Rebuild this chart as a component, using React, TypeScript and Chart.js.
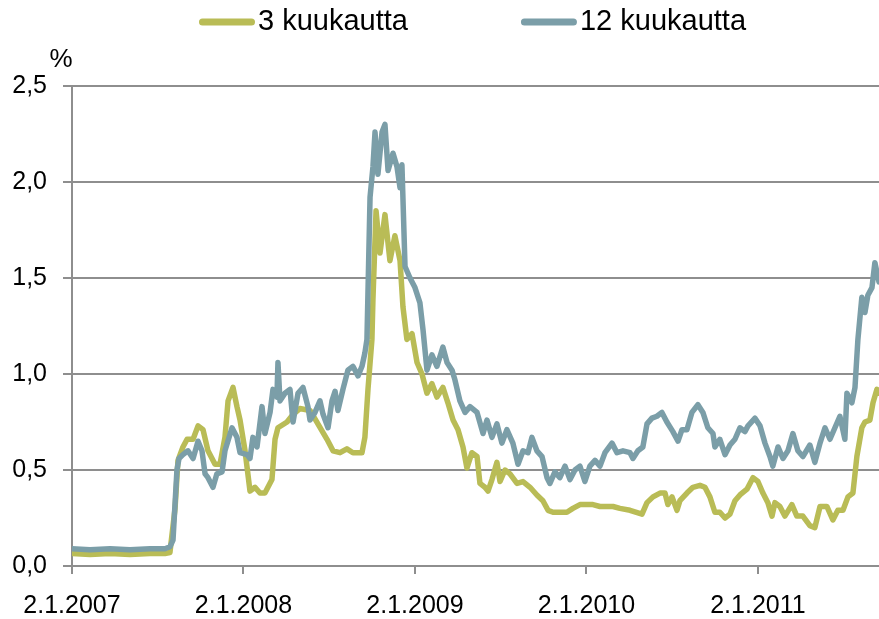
import { useEffect, useRef } from 'react';
import { Chart, registerables } from 'chart.js';

Chart.register(...registerables);

const SERIES_LABELS = ['3 kuukautta', '12 kuukautta'];
const SERIES_COLORS = ['#B9BC56', '#7B9EA8'];

const X_TICK_VALUES = [2007, 2008, 2009, 2010, 2011];
const X_TICK_LABELS = ['2.1.2007', '2.1.2008', '2.1.2009', '2.1.2010', '2.1.2011'];
const X_MIN = 2007;
const X_MAX = 2011.706;
const Y_MIN = 0;
const Y_MAX = 2.5;
const Y_STEP = 0.5;

// 3-month series: dates as decimal years, values in %
const DATES_3M = [
  2007.000, 2007.105, 2007.222, 2007.338, 2007.455, 2007.542, 2007.571, 2007.601, 2007.618, 2007.647,
  2007.671, 2007.706, 2007.735, 2007.764, 2007.793, 2007.834, 2007.863, 2007.892, 2007.910, 2007.939,
  2007.962, 2007.980, 2008.009, 2008.038, 2008.067, 2008.096, 2008.125, 2008.166, 2008.184, 2008.201,
  2008.254, 2008.289, 2008.329, 2008.388, 2008.434, 2008.487, 2008.522, 2008.563, 2008.603, 2008.638,
  2008.691, 2008.708, 2008.726, 2008.749, 2008.755, 2008.773, 2008.796, 2008.825, 2008.854, 2008.883,
  2008.913, 2008.930, 2008.953, 2008.983, 2009.012, 2009.041, 2009.070, 2009.099, 2009.128, 2009.163,
  2009.192, 2009.222, 2009.251, 2009.280, 2009.303, 2009.332, 2009.362, 2009.379, 2009.408, 2009.426,
  2009.449, 2009.478, 2009.496, 2009.525, 2009.554, 2009.595, 2009.630, 2009.671, 2009.711, 2009.746,
  2009.776, 2009.805, 2009.845, 2009.886, 2009.921, 2009.962, 2010.003, 2010.038, 2010.079, 2010.155,
  2010.195, 2010.254, 2010.324, 2010.353, 2010.388, 2010.429, 2010.458, 2010.475, 2010.499, 2010.528,
  2010.545, 2010.586, 2010.621, 2010.662, 2010.691, 2010.720, 2010.749, 2010.778, 2010.808, 2010.837,
  2010.866, 2010.895, 2010.936, 2010.971, 2011.000, 2011.029, 2011.058, 2011.082, 2011.099, 2011.128,
  2011.157, 2011.198, 2011.227, 2011.262, 2011.303, 2011.332, 2011.362, 2011.402, 2011.437, 2011.466,
  2011.496, 2011.525, 2011.554, 2011.577, 2011.606, 2011.624, 2011.653, 2011.671, 2011.694, 2011.706,
];
const RATE_3M = [
  0.065, 0.06, 0.065, 0.06, 0.065, 0.065, 0.07, 0.30, 0.55, 0.62,
  0.66, 0.66, 0.73, 0.71, 0.60, 0.53, 0.53, 0.67, 0.86, 0.93,
  0.83, 0.76, 0.60, 0.39, 0.41, 0.38, 0.38, 0.45, 0.66, 0.72,
  0.75, 0.79, 0.82, 0.81, 0.74, 0.66, 0.60, 0.59, 0.61, 0.59,
  0.59, 0.67, 0.92, 1.18, 1.39, 1.85, 1.63, 1.83, 1.59, 1.72,
  1.59, 1.35, 1.18, 1.21, 1.06, 1.00, 0.90, 0.95, 0.88, 0.93,
  0.85, 0.76, 0.71, 0.62, 0.51, 0.59, 0.57, 0.43, 0.41, 0.39,
  0.45, 0.54, 0.44, 0.50, 0.48, 0.43, 0.44, 0.41, 0.37, 0.34,
  0.29, 0.28, 0.28, 0.28, 0.30, 0.32, 0.32, 0.32, 0.31, 0.31,
  0.30, 0.29, 0.27, 0.33, 0.36, 0.38, 0.38, 0.32, 0.36, 0.29,
  0.34, 0.38, 0.41, 0.42, 0.41, 0.36, 0.28, 0.28, 0.25, 0.27,
  0.34, 0.37, 0.40, 0.46, 0.44, 0.38, 0.33, 0.26, 0.33, 0.31,
  0.26, 0.32, 0.26, 0.26, 0.21, 0.20, 0.31, 0.31, 0.24, 0.29,
  0.29, 0.36, 0.38, 0.57, 0.72, 0.75, 0.76, 0.85, 0.92, 0.90,
];

// 12-month series
const DATES_12M = [
  2007.000, 2007.105, 2007.222, 2007.338, 2007.455, 2007.542, 2007.571, 2007.589, 2007.612, 2007.624,
  2007.647, 2007.676, 2007.706, 2007.735, 2007.758, 2007.776, 2007.793, 2007.822, 2007.845, 2007.875,
  2007.892, 2007.933, 2007.962, 2007.980, 2008.020, 2008.038, 2008.055, 2008.079, 2008.108, 2008.125,
  2008.155, 2008.172, 2008.195, 2008.201, 2008.213, 2008.242, 2008.271, 2008.289, 2008.318, 2008.347,
  2008.376, 2008.388, 2008.417, 2008.446, 2008.464, 2008.493, 2008.516, 2008.534, 2008.551, 2008.580,
  2008.609, 2008.638, 2008.668, 2008.691, 2008.708, 2008.720, 2008.738, 2008.755, 2008.767, 2008.784,
  2008.808, 2008.825, 2008.843, 2008.872, 2008.895, 2008.913, 2008.924, 2008.942, 2008.971, 2009.000,
  2009.029, 2009.047, 2009.070, 2009.099, 2009.128, 2009.163, 2009.187, 2009.216, 2009.233, 2009.262,
  2009.292, 2009.321, 2009.362, 2009.397, 2009.420, 2009.449, 2009.478, 2009.507, 2009.536, 2009.571,
  2009.601, 2009.630, 2009.659, 2009.682, 2009.711, 2009.741, 2009.770, 2009.787, 2009.816, 2009.845,
  2009.875, 2009.904, 2009.933, 2009.962, 2009.991, 2010.020, 2010.050, 2010.079, 2010.108, 2010.149,
  2010.178, 2010.213, 2010.254, 2010.271, 2010.300, 2010.329, 2010.353, 2010.382, 2010.411, 2010.440,
  2010.469, 2010.504, 2010.534, 2010.557, 2010.586, 2010.615, 2010.650, 2010.679, 2010.708, 2010.738,
  2010.749, 2010.778, 2010.808, 2010.837, 2010.866, 2010.895, 2010.924, 2010.942, 2010.983, 2011.012,
  2011.041, 2011.070, 2011.087, 2011.117, 2011.146, 2011.175, 2011.204, 2011.233, 2011.262, 2011.303,
  2011.332, 2011.362, 2011.391, 2011.420, 2011.449, 2011.478, 2011.507, 2011.519, 2011.548, 2011.566,
  2011.583, 2011.606, 2011.624, 2011.641, 2011.665, 2011.682, 2011.706,
];
const RATE_12M = [
  0.09, 0.085, 0.09, 0.085, 0.09, 0.09, 0.10, 0.135, 0.50, 0.56,
  0.58, 0.60, 0.56, 0.65, 0.60, 0.48, 0.46, 0.41, 0.48, 0.49,
  0.60, 0.72, 0.67, 0.59, 0.58, 0.56, 0.67, 0.62, 0.83, 0.69,
  0.80, 0.92, 0.88, 1.06, 0.86, 0.90, 0.92, 0.75, 0.90, 0.93,
  0.83, 0.76, 0.80, 0.86, 0.79, 0.72, 0.86, 0.91, 0.81, 0.92,
  1.02, 1.04, 0.99, 1.04, 1.11, 1.18, 1.92, 2.08, 2.26, 2.04,
  2.26, 2.30, 2.06, 2.15, 2.08, 1.97, 2.09, 1.56, 1.50, 1.45,
  1.37, 1.23, 1.02, 1.10, 1.04, 1.14, 1.06, 1.02, 0.97, 0.86,
  0.80, 0.83, 0.80, 0.69, 0.76, 0.67, 0.74, 0.64, 0.71, 0.64,
  0.53, 0.60, 0.59, 0.67, 0.60, 0.57, 0.46, 0.43, 0.49, 0.46,
  0.52, 0.45, 0.50, 0.52, 0.44, 0.52, 0.55, 0.52, 0.59, 0.64,
  0.59, 0.60, 0.59, 0.56, 0.60, 0.62, 0.74, 0.77, 0.78, 0.80,
  0.75, 0.70, 0.65, 0.71, 0.71, 0.80, 0.84, 0.80, 0.72, 0.69,
  0.62, 0.66, 0.58, 0.63, 0.66, 0.72, 0.70, 0.73, 0.77, 0.73,
  0.64, 0.57, 0.52, 0.62, 0.56, 0.60, 0.69, 0.60, 0.57, 0.63,
  0.54, 0.64, 0.72, 0.66, 0.72, 0.78, 0.66, 0.90, 0.85, 0.93,
  1.18, 1.40, 1.32, 1.41, 1.45, 1.58, 1.48,
];

const FONT_FAMILY = '"Liberation Sans", Arial, Helvetica, sans-serif';
const GRID_COLOR = '#8e8e8e';

const legendPlugin = {
  id: 'customLegend',
  afterDraw(chart: any) {
    const ctx = chart.ctx as CanvasRenderingContext2D;
    const area = chart.chartArea;
    ctx.save();
    ctx.font = `29px ${FONT_FAMILY}`;
    ctx.textBaseline = 'middle';
    ctx.textAlign = 'left';
    const items = chart.data.datasets.map((ds: any) => ({ label: ds.label, color: ds.borderColor }));
    const swatch = 56;
    const gapText = 3;
    const gapItem = 113;
    const widths = items.map((it: any) => swatch + gapText + ctx.measureText(it.label).width);
    const total = widths.reduce((a: number, b: number) => a + b, 0) + gapItem * (items.length - 1);
    let x = (area.left + area.right) / 2 - 3 - total / 2;
    const y = 22;
    items.forEach((it: any, i: number) => {
      ctx.strokeStyle = it.color;
      ctx.lineWidth = 7;
      ctx.lineCap = 'round';
      ctx.beginPath();
      ctx.moveTo(x + 3.5, y);
      ctx.lineTo(x + swatch - 3.5, y);
      ctx.stroke();
      ctx.fillStyle = '#000';
      ctx.fillText(it.label, x + swatch + gapText, y);
      x += widths[i] + gapItem;
    });
    ctx.font = `26px ${FONT_FAMILY}`;
    ctx.textAlign = 'center';
    ctx.fillStyle = '#000';
    ctx.fillText('%', area.left - 11, area.top - 26);
    ctx.restore();
  },
};

export default function App() {
  const canvasRef = useRef<HTMLCanvasElement | null>(null);

  useEffect(() => {
    if (!canvasRef.current) return;
    const chart = new Chart(canvasRef.current, {
      type: 'line',
      data: {
        datasets: [
          {
            label: SERIES_LABELS[0],
            data: DATES_3M.map((d, i) => ({ x: d, y: RATE_3M[i] })),
            borderColor: SERIES_COLORS[0],
            backgroundColor: SERIES_COLORS[0],
            borderWidth: 5.5,
            pointRadius: 0,
            tension: 0,
            borderJoinStyle: 'round',
            borderCapStyle: 'round',
            order: 1,
          },
          {
            label: SERIES_LABELS[1],
            data: DATES_12M.map((d, i) => ({ x: d, y: RATE_12M[i] })),
            borderColor: SERIES_COLORS[1],
            backgroundColor: SERIES_COLORS[1],
            borderWidth: 5.5,
            pointRadius: 0,
            tension: 0,
            borderJoinStyle: 'round',
            borderCapStyle: 'round',
            order: 0,
          },
        ],
      },
      options: {
        animation: false,
        responsive: false,
        devicePixelRatio: 1,
        layout: { padding: { top: 86, right: 0, bottom: 0, left: 0 } },
        plugins: {
          legend: { display: false },
          tooltip: { enabled: false },
        },
        scales: {
          x: {
            type: 'linear',
            min: X_MIN,
            max: X_MAX,
            afterBuildTicks: (scale: any) => {
              scale.ticks = X_TICK_VALUES.map((v) => ({ value: v }));
            },
            afterFit: (scale: any) => {
              scale.height = 53;
            },
            ticks: {
              autoSkip: false,
              maxRotation: 0,
              padding: 17,
              color: '#000',
              font: { family: FONT_FAMILY, size: 25 },
              callback: (value: any) => {
                const idx = X_TICK_VALUES.indexOf(Number(value));
                return idx >= 0 ? X_TICK_LABELS[idx] : '';
              },
            },
            grid: {
              drawOnChartArea: false,
              drawTicks: true,
              tickLength: 8,
              color: GRID_COLOR,
              lineWidth: 2,
            },
            border: { display: true, color: GRID_COLOR, width: 2 },
          },
          y: {
            type: 'linear',
            min: Y_MIN,
            max: Y_MAX,
            afterFit: (scale: any) => {
              scale.width = 72;
            },
            ticks: {
              stepSize: Y_STEP,
              padding: 16,
              color: '#000',
              font: { family: FONT_FAMILY, size: 25 },
              callback: (value: any) => Number(value).toFixed(1).replace('.', ','),
            },
            grid: {
              drawTicks: true,
              tickLength: 9,
              color: GRID_COLOR,
              lineWidth: 2,
            },
            border: { display: true, color: GRID_COLOR, width: 2 },
          },
        },
      },
      plugins: [legendPlugin],
    } as any);
    return () => chart.destroy();
  }, []);

  return (
    <div style={{ position: 'fixed', left: 0, top: 0, width: 879, height: 619, background: '#fff' }}>
      <canvas ref={canvasRef} width={879} height={619} style={{ display: 'block' }} />
    </div>
  );
}
